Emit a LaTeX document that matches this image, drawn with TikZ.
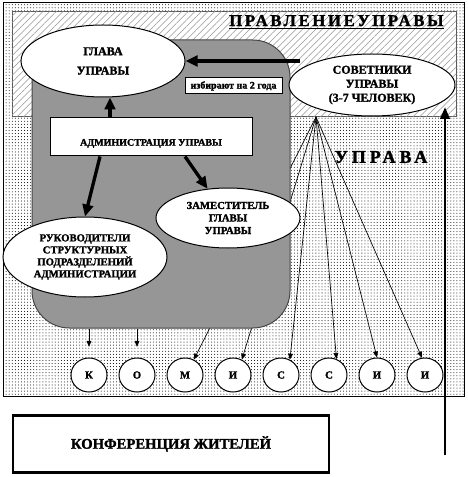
\documentclass[tikz,border=0pt]{standalone}
\usepackage{fontspec}
\setmainfont{Liberation Serif}[BoldFeatures={FakeBold=1.6}]
\usetikzlibrary{shapes.geometric,arrows.meta,patterns.meta,calc}

\tikzset{every picture/.style={line width=0.75pt}}
\tikzset{
  oval/.style={ellipse, draw, fill=white, align=center, inner sep=0pt},
  letter/.style={ellipse, draw, fill=white, minimum width=27pt, minimum height=25.5pt, inner sep=0pt, font=\bfseries\fontsize{8}{9}\selectfont},
  thickarr/.style={line width=2.5pt, -{Triangle[length=9pt,width=8pt]}},
  thinarr/.style={line width=0.5pt, -{Triangle[length=4.5pt,width=3.6pt]}},
}

\begin{document}
\begin{tikzpicture}[x=0.75pt,y=0.75pt,yscale=-1,xscale=1]
\useasboundingbox (0,0) rectangle (467,477);

%Shape: Rectangle [uprava]
\draw [pattern={Dots[distance=2.3pt,radius=0.38pt]}] (3,3) rectangle (464,396);
%Shape: Rectangle [pravlenie]
\draw [draw={rgb, 255:red, 90; green, 90; blue, 90 }, fill=white] (12,12) rectangle (456,117);
\fill [pattern={Lines[angle=45,distance=3.5pt,line width=0.4pt]}, pattern color={rgb, 255:red, 150; green, 150; blue, 150 }] (12,12) rectangle (456,117);

% Letter ovals
\node [letter] (k) at (89,375) {К};
\node [letter] (o) at (137,375) {О};
\node [letter] (m) at (185,375) {М};
\node [letter] (ia) at (233,375) {И};
\node [letter] (sa) at (281,375) {С};
\node [letter] (sb) at (329,375) {С};
\node [letter] (ib) at (377,375) {И};
\node [letter] (ic) at (425,375) {И};

\coordinate (fan) at (316,117);
%Straight Lines [fan]
\draw [thinarr] (fan) -- (m.60);
\draw [thinarr] (fan) -- (ia.60);
\draw [thinarr] (fan) -- (sa.60);
\draw [thinarr] (fan) -- (sb.65);
\draw [thinarr] (fan) -- (ib.north);
\draw [thinarr] (fan) -- (ic.100);

%Shape: Rounded Rect [zone]
\node [draw={rgb, 255:red, 70; green, 70; blue, 70 }, fill={rgb, 255:red, 150; green, 150; blue, 150 }, rounded corners=28pt, minimum width=193.5pt, minimum height=216pt, inner sep=0pt] (zone) at (161,184) {};

%Straight Lines
\draw [thinarr, shorten >=8pt] (k |- zone.south) -- (k.north);
\draw [thinarr, shorten >=8pt] (o |- zone.south) -- (o.north);

% Text Node
\node [anchor=east, inner sep=0.75pt, font=\bfseries\fontsize{12.5}{14}\selectfont\addfontfeature{LetterSpace=16}] (title) at (445,22) {\underline{ПРАВЛЕНИЕУПРАВЫ}};
% Text Node
\node [inner sep=0.75pt, font=\bfseries\fontsize{13.5}{15}\selectfont\addfontfeature{LetterSpace=22}] (upr) at (381,157) {УПРАВА};

% Ovals
\node [oval, minimum width=123pt, minimum height=54pt, font=\bfseries\fontsize{9}{10.5}\selectfont] (glava) at (103,61) {ГЛАВА\\[4pt]УПРАВЫ};
\node [oval, minimum width=124.5pt, minimum height=46.5pt, font=\bfseries\fontsize{9}{10.5}\selectfont] (sovet) at (372,85) {СОВЕТНИКИ\\УПРАВЫ\\(3-7 ЧЕЛОВЕК)};
\node [oval, minimum width=108pt, minimum height=45pt, font=\bfseries\fontsize{8}{9.4}\selectfont] (zam) at (228,218) {ЗАМЕСТИТЕЛЬ\\ГЛАВЫ\\УПРАВЫ};
\node [oval, minimum width=123pt, minimum height=60pt, font=\bfseries\fontsize{8}{9}\selectfont] (ruk) at (85,257) {РУКОВОДИТЕЛИ\\СТРУКТУРНЫХ\\ПОДРАЗДЕЛЕНИЙ\\АДМИНИСТРАЦИИ};

% Boxes
\node [draw, fill=white, inner sep=0.75pt, minimum width=72.75pt, minimum height=12pt, font=\bfseries\fontsize{7.5}{8}\selectfont] (izb) at (233.5,86) {избирают на 2 года};
\node [draw, fill=white, inner sep=3pt, minimum width=151.5pt, minimum height=28.5pt, text height=16pt, text depth=3pt, font=\bfseries\fontsize{7.5}{8}\selectfont] (admin) at (151,137) {АДМИНИСТРАЦИЯ УПРАВЫ};
\node [draw, line width=2.2pt, fill=white, minimum width=237pt, minimum height=43pt, font=\bfseries\fontsize{11}{13}\selectfont] (konf) at (171,444) {КОНФЕРЕНЦИЯ ЖИТЕЛЕЙ};

% Thick arrows
\draw [thickarr] ($(sovet.west |- glava.east)+(11,0)$) -- (glava.east);
\draw [thickarr] ($(admin.north)+(-41,0)$) -- ($(glava.south)+(7,0)$);
\draw [thickarr] ($(admin.south)+(-51,0)$) -- (ruk.north);
\draw [thickarr] ($(admin.south)+(34,0)$) -- (zam.125);

\coordinate (konfin) at (445,455);
\coordinate (sovin) at (445,107);
\draw [line width=2.2pt, -{Triangle[length=9pt,width=7pt]}] (konfin) -- (sovin);

\end{tikzpicture}
\end{document}
